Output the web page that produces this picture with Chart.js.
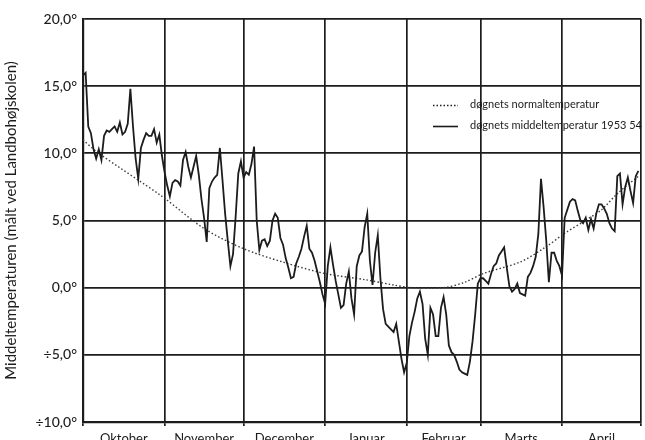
<!DOCTYPE html>
<html>
<head>
<meta charset="utf-8">
<script src="https://cdn.jsdelivr.net/npm/chart.js@4/dist/chart.umd.min.js"></script>
<style>
  html, body { margin: 0; padding: 0; background: #fff; overflow: hidden; }
  #wrap { width: 645px; height: 440px; overflow: hidden; }
</style>
</head>
<body>
<div id="wrap"><canvas id="tempChart" width="646" height="460"></canvas></div>
<script>
// months along the x axis (day 0 = 1. oktober 1953)
const monthNames = ['Oktober', 'November', 'December', 'Januar', 'Februar', 'Marts', 'April'];
const monthStarts = [0, 31, 61, 92, 123, 151, 182, 212];

// y ticks
const yTicks = [-10, -5, 0, 5, 10, 15, 20];

// døgnets middeltemperatur 1953-54, one value per day
const dailyMean = [
  15.8, 16.0, 12.0, 11.5, 10.3, 9.6, 10.3, 9.5, 11.3, 11.7,
  11.6, 11.8, 12.0, 11.6, 12.3, 11.4, 11.6, 12.2, 14.8, 12.0,
  9.6, 8.1, 10.4, 11.0, 11.5, 11.3, 11.3, 11.8, 10.8, 11.4,
  9.8,
  8.6, 7.6, 6.8, 7.8, 8.0, 7.9, 7.6, 9.5, 10.1, 9.0,
  8.2, 9.0, 9.8, 8.4, 6.6, 5.2, 3.4, 7.4, 7.9, 8.2,
  8.4, 10.4, 8.0, 5.5, 3.5, 1.6, 2.5, 5.3, 8.5, 9.4,
  8.2, 8.6, 8.4, 9.2, 10.5, 5.0, 2.8, 3.5, 3.6, 3.1,
  3.5, 5.0, 5.5, 5.2, 3.7, 3.2, 2.2, 1.5, 0.7, 0.8,
  1.8, 2.3, 2.9, 3.8, 4.6, 2.9, 2.6, 2.0, 1.2, 0.4,
  -0.5,
  -1.2, 1.6, 3.0, 1.7, 0.5, -0.5, -1.5, -1.3, 0.3, 1.2,
  -0.8, -2.0, 1.6, 2.4, 2.7, 4.5, 5.5, 2.0, 0.2, 2.6,
  3.9, 0.7, -1.6, -2.7, -2.9, -3.1, -3.3, -2.7, -4.0, -5.3,
  -6.3,
  -5.6, -3.6, -2.6, -1.8, -0.8, -0.3, -1.2, -3.8, -5.0, -1.5,
  -2.0, -3.6, -3.6, -1.5, -0.7, -2.0, -4.3, -4.8, -5.0, -5.5,
  -6.1, -6.3, -6.4, -6.5, -5.5, -4.0, -2.0, 0.3,
  0.7, 0.7, 0.5, 0.3, 1.0, 1.6, 1.8, 2.4, 2.7, 3.0,
  1.5, 0.1, -0.3, -0.1, 0.3, -0.4, -0.5, -0.6, 0.8, 1.1,
  1.6, 2.3, 4.0, 8.1, 6.0, 3.5, 0.4, 2.6, 2.6, 2.0,
  1.6,
  0.9, 5.2, 5.8, 6.4, 6.6, 6.5, 5.7, 5.0, 4.8, 5.2,
  4.3, 5.1, 4.4, 5.5, 6.2, 6.2, 5.9, 5.5, 4.8, 4.4,
  4.2, 8.3, 8.5, 6.2, 7.5, 8.2, 7.2, 6.3, 8.3, 8.7
];

// døgnets normaltemperatur, read at these days
const normalDays  = [0, 6, 30, 46, 61, 76, 92, 107, 118, 125, 137, 145, 152, 166, 176, 183, 190, 197, 203, 211];
const normalTemps = [11.0, 10.0, 6.8, 4.4, 2.9, 1.9, 1.05, 0.6, 0.2, 0.0, 0.0, 0.4, 1.05, 1.9, 3.05, 4.05, 4.9, 5.8, 7.0, 8.3];

const legendLabels = ['døgnets normaltemperatur', 'døgnets middeltemperatur 1953 54'];

const INK = '#1c1c1c';
const FONT = 'Lato, "DejaVu Sans", sans-serif';

const monthMids = monthNames.map((m, i) => (monthStarts[i] + monthStarts[i + 1]) / 2);

function fmtDegree(v) {
  const s = Math.abs(v).toFixed(1).replace('.', ',') + '°';
  return v < 0 ? '÷' + s : s;
}

// legend drawn inside the plot, top right
const innerLegend = {
  id: 'innerLegend',
  afterDraw(chart) {
    const ctx = chart.ctx;
    const x0 = 433, x1 = 458, tx = 470;
    const rows = [105, 126];
    ctx.save();
    ctx.strokeStyle = INK;
    rows.forEach((y, i) => {
      ctx.beginPath();
      ctx.lineWidth = i === 0 ? 1.3 : 1.6;
      ctx.setLineDash(i === 0 ? [1.5, 2] : []);
      ctx.moveTo(x0, y + 0.5);
      ctx.lineTo(x1, y + 0.5);
      ctx.stroke();
    });
    ctx.setLineDash([]);
    ctx.fillStyle = INK;
    ctx.font = '11px ' + FONT;
    ctx.textBaseline = 'middle';
    legendLabels.forEach((t, i) => ctx.fillText(t, tx, rows[i] - 1));
    ctx.restore();
  }
};

new Chart(document.getElementById('tempChart'), {
  type: 'line',
  data: {
    datasets: [{
      label: legendLabels[0],
      data: normalDays.map((d, i) => ({ x: d, y: normalTemps[i] })),
      borderColor: '#3a3a3a',
      borderWidth: 1.4,
      borderDash: [1.5, 2.2],
      pointRadius: 0,
      tension: 0.3,
      order: 2
    }, {
      label: legendLabels[1],
      data: dailyMean.map((v, i) => ({ x: i, y: v })),
      borderColor: INK,
      borderWidth: 1.8,
      pointRadius: 0,
      tension: 0,
      order: 1
    }]
  },
  plugins: [innerLegend],
  options: {
    responsive: false,
    animation: false,
    layout: { padding: { top: 19, right: 1, left: 0, bottom: 0 } },
    plugins: {
      legend: { display: false },
      tooltip: { enabled: false }
    },
    scales: {
      x: {
        type: 'linear',
        min: 0,
        max: 212,
        afterBuildTicks(axis) {
          const vals = monthStarts.concat(monthMids).sort((a, b) => a - b);
          axis.ticks = vals.map(v => ({ value: v }));
        },
        afterFit(axis) { axis.height = 460 - 422; },
        ticks: {
          autoSkip: false,
          maxRotation: 0,
          padding: 5,
          color: INK,
          font: { family: FONT, size: 13 },
          callback(value) {
            const i = monthMids.indexOf(value);
            return i >= 0 ? monthNames[i] : '';
          }
        },
        grid: {
          color: ctx => (ctx.tick && monthStarts.includes(ctx.tick.value)) ? INK : 'rgba(0,0,0,0)',
          lineWidth: 1.7,
          drawTicks: true,
          tickLength: 4
        },
        border: { display: true, color: INK, width: 2.2 }
      },
      y: {
        min: -10,
        max: 20,
        afterBuildTicks(axis) {
          axis.ticks = yTicks.map(v => ({ value: v }));
        },
        afterFit(axis) { axis.width = 83; },
        ticks: {
          padding: 6,
          color: INK,
          font: { family: FONT, size: 14, weight: '500' },
          callback: v => fmtDegree(v)
        },
        grid: {
          color: INK,
          lineWidth: 1.7,
          drawTicks: false
        },
        border: { display: true, color: INK, width: 2.2 },
        title: {
          display: true,
          text: 'Middeltemperaturen (målt ved Landbohøjskolen)',
          color: INK,
          font: { family: FONT, size: 15 },
          padding: { top: 2, bottom: 2 }
        }
      }
    }
  }
});
</script>
</body>
</html>
